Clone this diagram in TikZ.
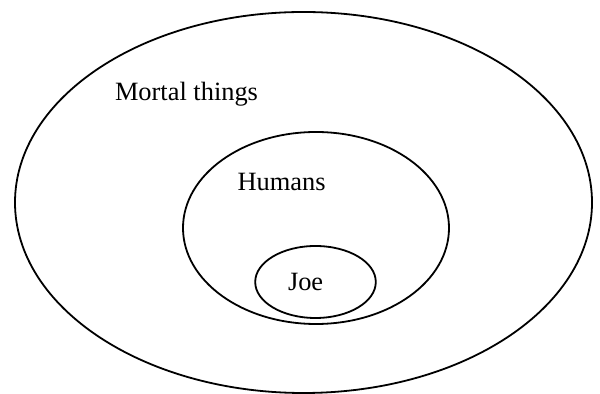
\documentclass[tikz,border=0pt]{standalone}
\usepackage{fontspec}
\setmainfont{Liberation Serif}
\usetikzlibrary{shapes.geometric}

\begin{document}
\begin{tikzpicture}[x=0.5pt,y=-0.5pt]
      \tikzset{set/.style={draw,ellipse,line width=0.9pt,inner sep=0pt},
               setname/.style={font=\fontsize{13.2}{15}\selectfont,anchor=base,inner sep=0pt}}
      \useasboundingbox (0,0) rectangle (600,394);
      \node[set,minimum width=288.5pt,minimum height=190.5pt] (mortal) at (303.5,202.5) {};
      \node[set,minimum width=133pt,minimum height=96pt] (humans) at (316,228) {};
      \node[set,minimum width=60.3pt,minimum height=36pt] (joe) at (315.5,282) {};
      \node[setname] (mortallabel) at (186.5,100.3) {Mortal things};
      \node[setname] (humanslabel) at (281.6,191) {Humans};
      \node[setname] (joelabel) at (305.6,290.3) {Joe};
    \end{tikzpicture}
\end{document}
